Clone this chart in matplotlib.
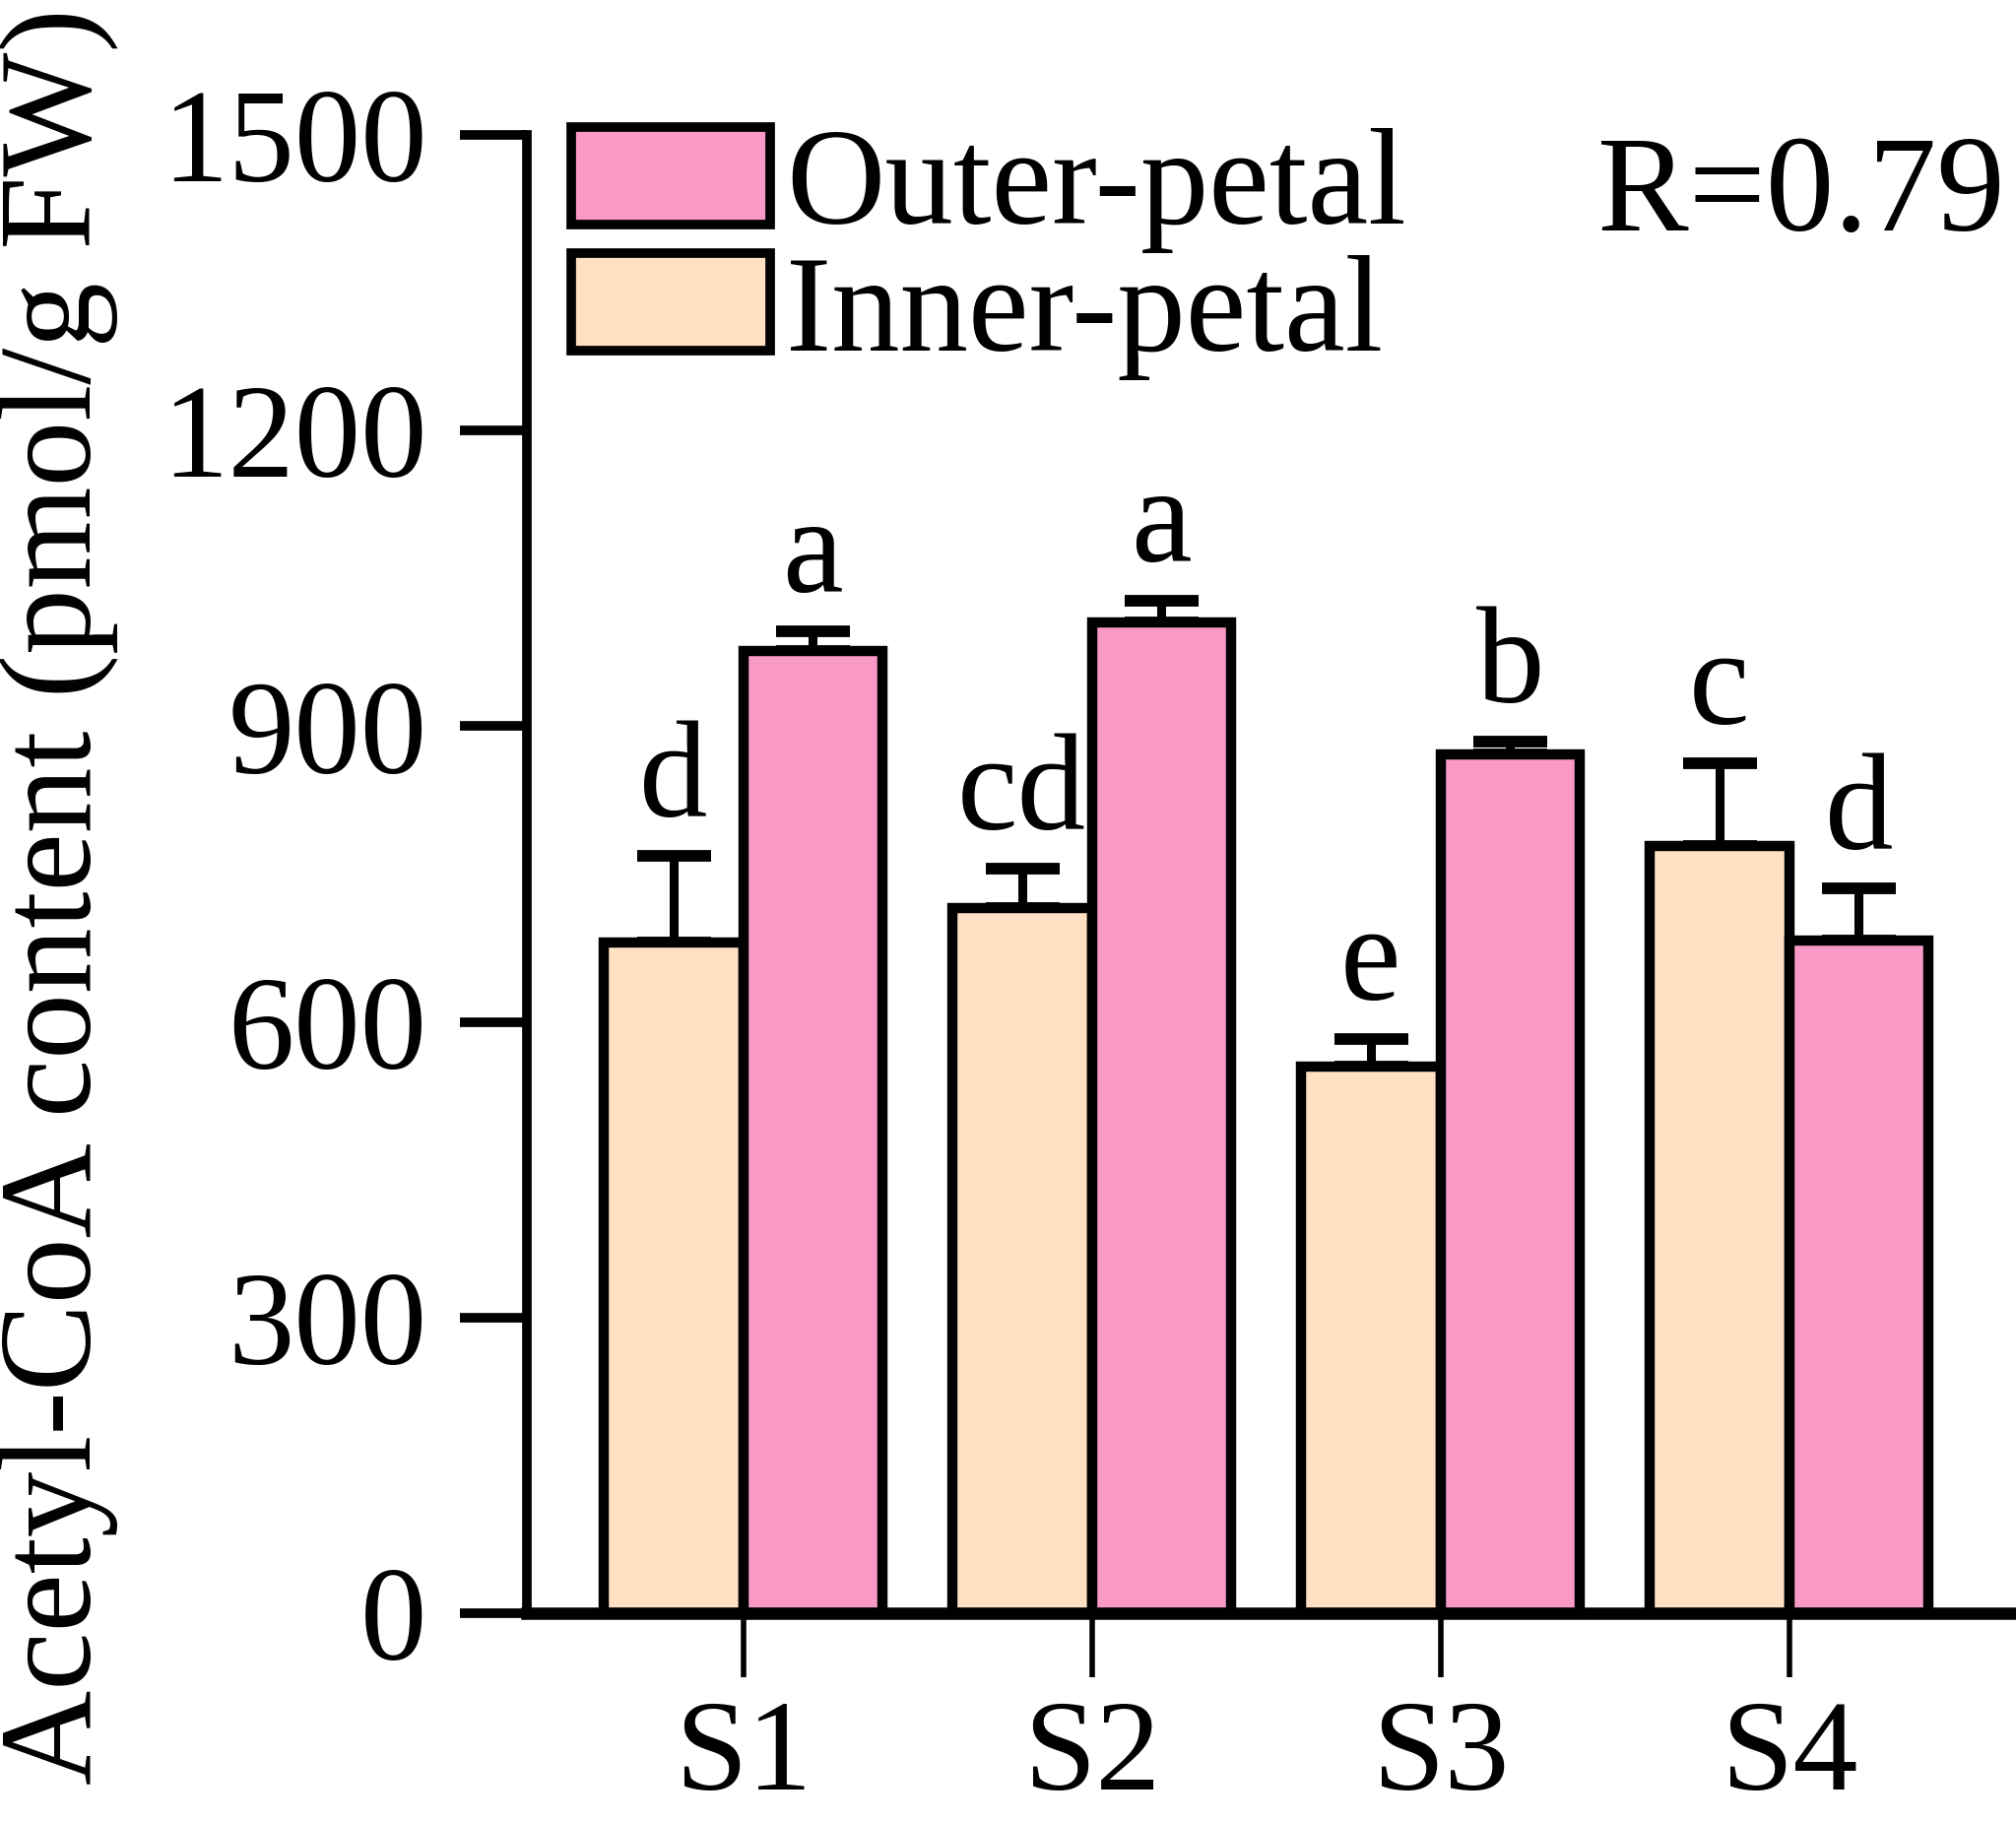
import matplotlib
matplotlib.use("Agg")
import matplotlib.pyplot as plt
import numpy as np
from matplotlib.patches import Patch

plt.rcParams["font.family"] = ["Liberation Serif", "DejaVu Serif"]

stages = ["S1", "S2", "S3", "S4"]
inner_mean = [680, 715, 555, 778]
inner_sd = [88, 40, 28, 84]
outer_mean = [976, 1005, 871, 682]
outer_sd = [20, 22, 13, 53]
inner_letters = ["d", "cd", "e", "c"]
outer_letters = ["a", "a", "b", "d"]

PINK = "#F899C6"
BEIGE = "#FFE0C2"

fig = plt.figure(figsize=(20.47, 18.5), dpi=100)
ax = fig.add_axes([0.2614, 0.1146, 0.7367, 0.8114])

x = np.arange(len(stages))
w = 0.4
ax.bar(x - w/2, inner_mean, w, color=BEIGE, edgecolor="black", linewidth=7.5, zorder=2)
ax.bar(x + w/2, outer_mean, w, color=PINK, edgecolor="black", linewidth=7.5, zorder=2)

zeros = np.zeros(len(stages))
for xs, m, s in [(x - w/2, inner_mean, inner_sd), (x + w/2, outer_mean, outer_sd)]:
    ax.errorbar(xs, m, yerr=[zeros, s], fmt="none", ecolor="black",
                elinewidth=6.5, capsize=27, capthick=8.5, zorder=1)

for xs, m, s, labs in [(x - w/2, inner_mean, inner_sd, inner_letters),
                        (x + w/2, outer_mean, outer_sd, outer_letters)]:
    for xi, mi, si, lab in zip(xs, m, s, labs):
        ax.text(xi, mi + si + 10, lab, ha="center", va="bottom", fontsize=100)

ax.set_xlim(-0.62, 3.64)
ax.set_ylim(0, 1500)
ax.set_yticks([0, 300, 600, 900, 1200, 1500])
ax.set_xticks(x)
ax.set_xticklabels(stages)

for sp in ["top", "right"]:
    ax.spines[sp].set_visible(False)
ax.spines["left"].set_linewidth(7)
ax.spines["bottom"].set_linewidth(9)
ax.spines["left"].set_zorder(3)
ax.spines["bottom"].set_zorder(3)

ax.tick_params(axis="y", length=49, width=7, pad=24, labelsize=97)
ax.tick_params(axis="x", length=47, width=4, pad=16, labelsize=95)

ax.set_ylabel("Acetyl-CoA content (pmol/g FW)", fontsize=96)
ax.yaxis.set_label_coords(-0.275, 0.485)

handles = [Patch(facecolor=PINK, edgecolor="black", linewidth=7),
           Patch(facecolor=BEIGE, edgecolor="black", linewidth=7)]
ax.legend(handles, ["Outer-petal", "Inner-petal"], loc="upper left",
          bbox_to_anchor=(0.03, 1.005), frameon=False, fontsize=100,
          handlelength=1.45, handleheight=0.72, handletextpad=0.12,
          labelspacing=0.0, borderpad=0, borderaxespad=0)

ax.text(0.995, 0.935, "R=0.79", transform=ax.transAxes, ha="right",
        va="baseline", fontsize=100)

fig.savefig("out.png", dpi=100, facecolor="white")
